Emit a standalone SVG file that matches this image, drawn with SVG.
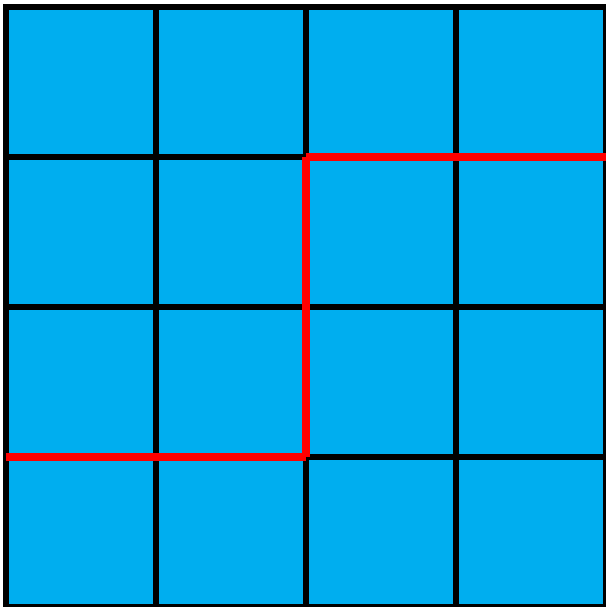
<svg xmlns="http://www.w3.org/2000/svg" width="606" height="607" viewBox="0 0 606 607">
<style>
.cell{fill:#00AEEF;stroke:#000;stroke-width:6}
.path{stroke:#FF0000;stroke-width:8;fill:none;stroke-linecap:butt}
</style>
<rect width="606" height="607" fill="#fff"/>
<g id="grid">
<rect class="cell" x="6" y="7" width="150" height="150"/>
<rect class="cell" x="156" y="7" width="150" height="150"/>
<rect class="cell" x="306" y="7" width="150" height="150"/>
<rect class="cell" x="456" y="7" width="150" height="150"/>
<rect class="cell" x="6" y="157" width="150" height="150"/>
<rect class="cell" x="156" y="157" width="150" height="150"/>
<rect class="cell" x="306" y="157" width="150" height="150"/>
<rect class="cell" x="456" y="157" width="150" height="150"/>
<rect class="cell" x="6" y="307" width="150" height="150"/>
<rect class="cell" x="156" y="307" width="150" height="150"/>
<rect class="cell" x="306" y="307" width="150" height="150"/>
<rect class="cell" x="456" y="307" width="150" height="150"/>
<rect class="cell" x="6" y="457" width="150" height="150"/>
<rect class="cell" x="156" y="457" width="150" height="150"/>
<rect class="cell" x="306" y="457" width="150" height="150"/>
<rect class="cell" x="456" y="457" width="150" height="150"/>
</g>
<g id="connectors">
<line class="path" x1="6" y1="457" x2="306" y2="457"/>
<line class="path" x1="306" y1="457" x2="306" y2="157"/>
<line class="path" x1="306" y1="157" x2="606" y2="157"/>
</g>
</svg>
